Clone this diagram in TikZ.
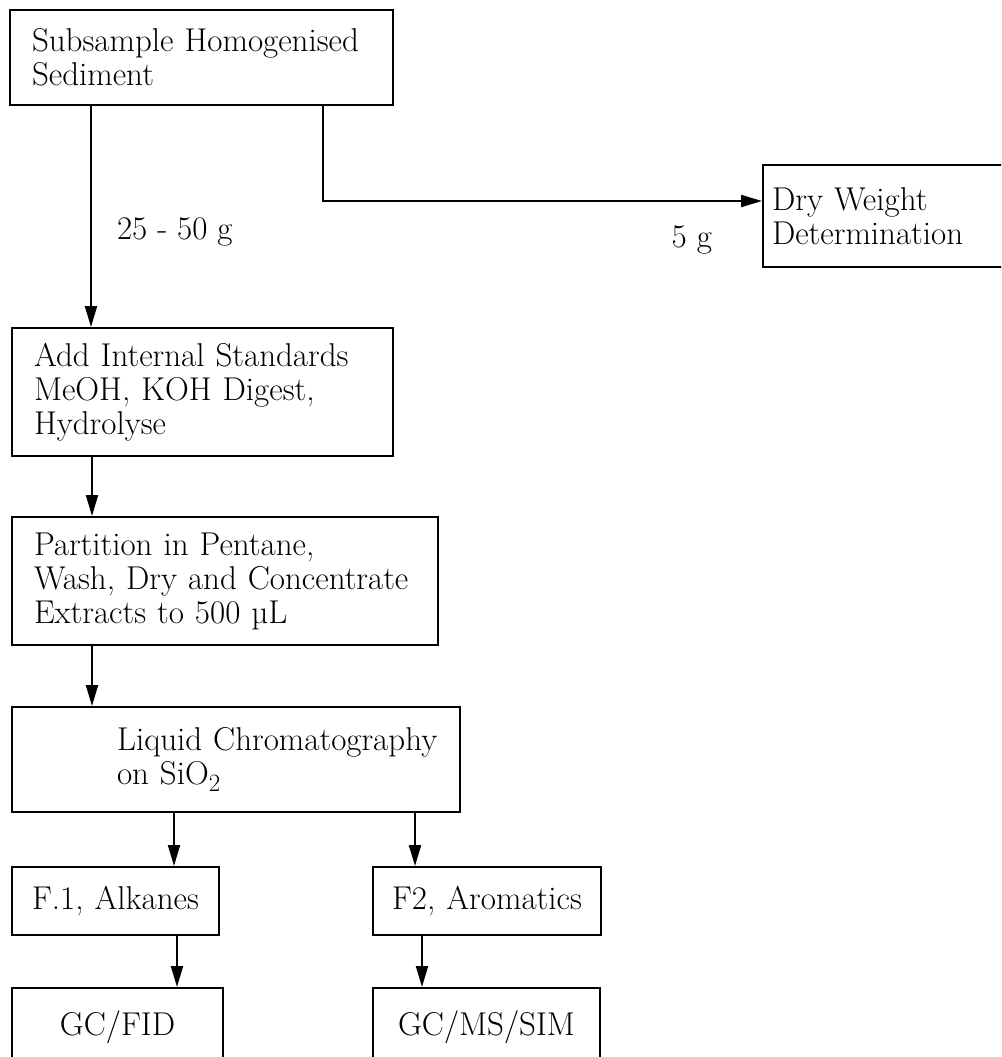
\documentclass[tikz,border=0pt]{standalone}
\usetikzlibrary{arrows.meta,positioning}

\begin{document}
\begin{tikzpicture}[x=1pt,y=-1pt,font=\fontsize{33}{34}\selectfont,
  stage/.style={draw,line width=2pt,align=left,inner xsep=22pt,inner ysep=0pt},
  frac/.style={draw,line width=2pt,align=center,inner xsep=10pt,inner ysep=0pt},
  flow/.style={line width=2pt,-{Triangle[length=21pt,width=12pt]}},
  qty/.style={inner sep=0pt}]
\clip (0,0) rectangle (1001,1057);
% ================= work-up steps =================
\node[stage,text width=339pt,minimum height=95pt] (sub) at (201.5,57.5)
  {Subsample Homogenised\\ Sediment};
\node[stage,inner xsep=9pt,text width=249pt,minimum height=102pt] (dry) at (896.5,216)
  {Dry Weight\\ Determination};
\node[stage,text width=337pt,minimum height=128pt] (digest) at (202.5,392)
  {Add Internal Standards\\ MeOH, KOH Digest,\\ Hydrolyse};
\node[stage,text width=382pt,minimum height=128pt] (part) at (225,581)
  {Partition in Pentane,\\ Wash, Dry and Concentrate\\ Extracts to 500 \textmu L};
\node[stage,inner xsep=10pt,text width=428pt,minimum height=105pt] (lc) at (236,759.5)
  {\hspace*{95pt}Liquid~Chromatography\\ \hspace*{95pt}on SiO$_2$};
% ================= fractions and analysis =================
\node[frac,text width=187pt,minimum height=68pt] (alk) at (115.5,901) {F.1, Alkanes};
\node[frac,text width=208pt,minimum height=68pt] (aro) at (487,901) {F2, Aromatics};
\node[frac,text width=191pt,minimum height=78pt] (fid) at (117.5,1027) {GC/FID};
\node[frac,text width=207pt,minimum height=78pt] (sim) at (486.5,1027) {GC/MS/SIM};
% ================= connectors =================
\draw[flow] (sub.south west) ++(82,0) coordinate (s1)
  -- node[qty,pos=0.572,right=25pt] (mass) {25 - 50 g} (s1 |- digest.north);
% side split for dry weight
\draw[flow] (sub.south west) ++(314,0) coordinate (fork)
  |- node[qty,pos=0.92,below=24pt] (split) {5 g} ([yshift=-37pt]dry.north west);
\draw[flow] (digest.south west) ++(81,0) coordinate (s2) -- (s2 |- part.north);
\draw[flow] (part.south west) ++(81,0) coordinate (s3) -- (s3 |- lc.north);
\draw[flow] (lc.south west) ++(163,0) coordinate (s4) -- (s4 |- alk.north);
\draw[flow] (lc.south west) ++(404,0) coordinate (s5) -- (s5 |- aro.north);
\draw[flow] (alk.south west) ++(166,0) coordinate (s6) -- (s6 |- fid.north);
\draw[flow] (aro.south west) ++(50,0) coordinate (s7) -- (s7 |- sim.north);
\end{tikzpicture}
\end{document}
